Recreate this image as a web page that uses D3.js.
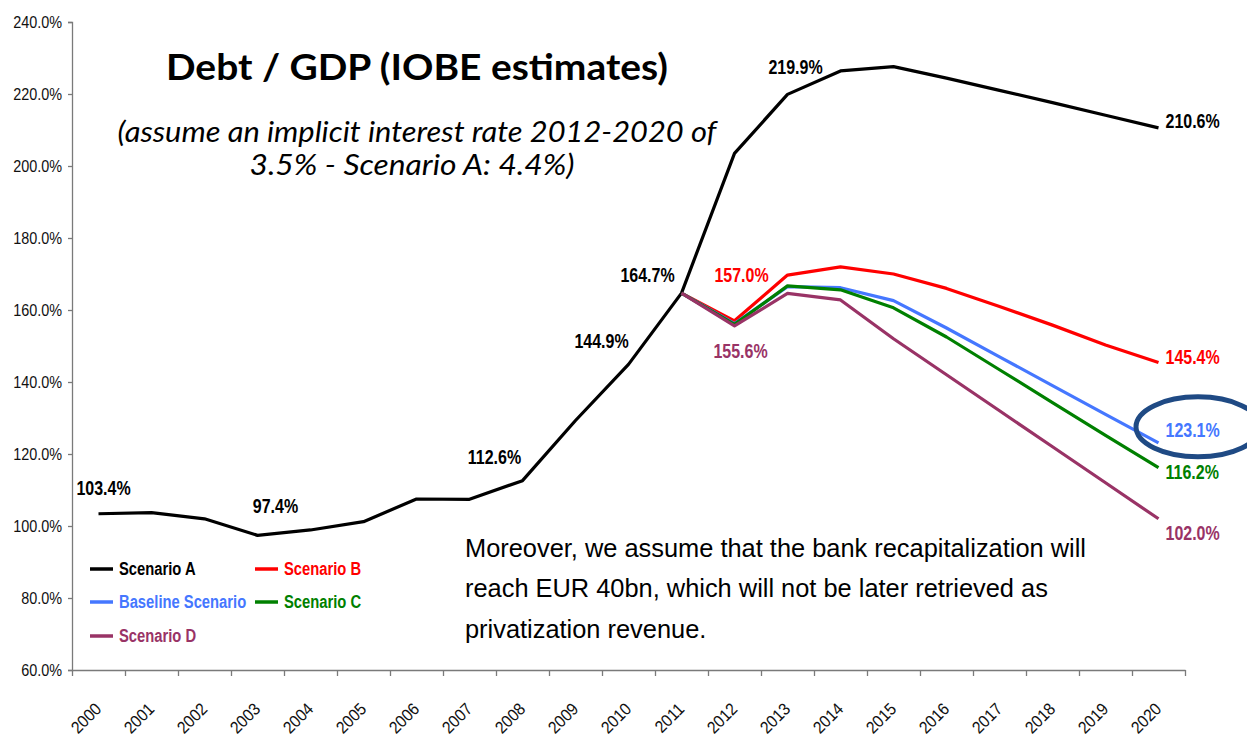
<!DOCTYPE html>
<html>
<head>
<meta charset="utf-8">
<script src="https://cdn.jsdelivr.net/npm/d3@7"></script>
<style>
  body { margin: 0; background: #fff; }
  svg { display: block; }
</style>
</head>
<body>
<div id="chart"></div>
<script>
// ---- data ----
var years = ["2000","2001","2002","2003","2004","2005","2006","2007","2008","2009","2010",
             "2011","2012","2013","2014","2015","2016","2017","2018","2019","2020"];
var forecastYears = ["2011","2012","2013","2014","2015","2016","2017","2018","2019","2020"];

var scenarioA = [103.4, 103.7, 102.0, 97.4, 98.9, 101.2, 107.5, 107.4, 112.6, 129.3, 144.9,
                 164.7, 203.5, 219.9, 226.4, 227.6, 224.4, 221.0, 217.6, 214.1, 210.6];
var scenarioB = [164.7, 157.0, 169.7, 172.0, 170.0, 166.0, 161.0, 155.8, 150.3, 145.4];
var baseline  = [164.7, 156.2, 166.5, 166.2, 162.6, 155.0, 147.0, 139.0, 131.0, 123.1];
var scenarioC = [164.7, 156.0, 166.7, 165.6, 160.6, 152.5, 143.4, 134.3, 125.2, 116.2];
var scenarioD = [164.7, 155.6, 164.6, 162.8, 152.0, 142.0, 132.0, 122.0, 112.0, 102.0];

var yTicks = [60, 80, 100, 120, 140, 160, 180, 200, 220, 240];

var seriesNames = ["Scenario A", "Scenario B", "Baseline Scenario", "Scenario C", "Scenario D"];

// ---- layout ----
var W = 1247, H = 739;
var arial = "'Liberation Sans', Arial, sans-serif";
var calib = "Lato, 'Open Sans', sans-serif";

// no Arial Narrow here, so squeeze Arial horizontally to the same width
function squeeze(sel, k) {
  sel.each(function() {
    var L = this.getComputedTextLength();
    d3.select(this).attr("textLength", L * k).attr("lengthAdjust", "spacingAndGlyphs");
  });
}
function fitTo(sel, len) {
  sel.attr("textLength", len).attr("lengthAdjust", "spacingAndGlyphs");
}

var svg = d3.select("#chart").append("svg")
    .attr("width", W)
    .attr("height", H);

var x = d3.scaleBand().domain(years).range([72, 1185]).padding(0);
var xEdge = d3.scaleLinear().domain([0, years.length]).range([72, 1185]);
var y = d3.scaleLinear().domain([60, 240]).range([670, 22]);

var cx = function(yr) { return x(yr) + x.bandwidth() / 2; };

// y axis
var yAxis = svg.append("g")
    .attr("transform", "translate(72,0)")
    .call(d3.axisLeft(y).tickValues(yTicks).tickSize(4).tickPadding(6)
      .tickFormat(function(d) { return d.toFixed(1) + "%"; }));
yAxis.selectAll("text").attr("font-family", arial).attr("font-size", "16px").attr("fill", "#111");
squeeze(yAxis.selectAll("text"), 0.9);

// x axis: tick marks on category edges, labels at centers
var xTicks = svg.append("g")
    .attr("transform", "translate(0,670)")
    .call(d3.axisBottom(xEdge).tickValues(d3.range(years.length + 1)).tickFormat("").tickSize(6).tickSizeOuter(0));

var xLabels = svg.append("g")
    .attr("transform", "translate(0,670)")
    .call(d3.axisBottom(x).tickSize(0).tickPadding(0));
xLabels.select(".domain").remove();
xLabels.selectAll("text")
    .attr("y", 0).attr("dy", 0)
    .attr("text-anchor", "end")
    .attr("transform", "translate(4,40) rotate(-45)")
    .attr("font-family", arial).attr("font-size", "17px").attr("fill", "#111");
squeeze(xLabels.selectAll("text"), 0.92);

svg.selectAll(".domain, .tick line").attr("stroke", "#7a7a7a").attr("stroke-width", 1.3);

// ---- lines ----
var colors = {
  "Scenario A": "#000000",
  "Scenario B": "#ff0000",
  "Baseline Scenario": "#4577ff",
  "Scenario C": "#008000",
  "Scenario D": "#993366"
};

var series = [
  { name: "Scenario A", cats: years, vals: scenarioA },
  { name: "Scenario B", cats: forecastYears, vals: scenarioB },
  { name: "Baseline Scenario", cats: forecastYears, vals: baseline },
  { name: "Scenario C", cats: forecastYears, vals: scenarioC },
  { name: "Scenario D", cats: forecastYears, vals: scenarioD }
];

var line = d3.line()
    .x(function(d) { return cx(d[0]); })
    .y(function(d) { return y(d[1]); });

svg.append("g").selectAll("path")
  .data(series)
  .enter().append("path")
    .attr("d", function(s) { return line(d3.zip(s.cats, s.vals)); })
    .attr("fill", "none")
    .attr("stroke", function(s) { return colors[s.name]; })
    .attr("stroke-width", 3.2)
    .attr("stroke-linejoin", "round");

// ---- data labels ----
// which points carry a label, and where the label sits relative to the point
var labelSpots = [
  { s: 0, yr: "2000", dx: 5,   dy: -26, anchor: "middle" },
  { s: 0, yr: "2003", dx: 18,  dy: -29, anchor: "middle" },
  { s: 0, yr: "2008", dx: -28, dy: -24, anchor: "middle" },
  { s: 0, yr: "2010", dx: -27, dy: -23, anchor: "middle" },
  { s: 0, yr: "2011", dx: -34, dy: -18, anchor: "middle" },
  { s: 0, yr: "2013", dx: 8,   dy: -27, anchor: "middle" },
  { s: 0, yr: "2020", dx: 7,   dy: -7,  anchor: "start" },
  { s: 1, yr: "2012", dx: 7,   dy: -46, anchor: "middle" },
  { s: 4, yr: "2012", dx: 6,   dy: 25,  anchor: "middle" },
  { s: 1, yr: "2020", dx: 7,   dy: -6,  anchor: "start" },
  { s: 2, yr: "2020", dx: 7,   dy: -13, anchor: "start" },
  { s: 3, yr: "2020", dx: 7,   dy: 4,   anchor: "start" },
  { s: 4, yr: "2020", dx: 7,   dy: 14,  anchor: "start" }
];

var labels = svg.append("g").selectAll("text")
  .data(labelSpots)
  .enter().append("text")
    .attr("x", function(d) { return cx(d.yr) + d.dx; })
    .attr("y", function(d) {
      var s = series[d.s];
      return y(s.vals[s.cats.indexOf(d.yr)]) + d.dy;
    })
    .attr("dy", "0.36em")
    .attr("text-anchor", function(d) { return d.anchor; })
    .attr("font-family", arial)
    .attr("font-weight", "bold")
    .attr("font-size", "19.5px")
    .attr("fill", function(d) { return colors[series[d.s].name]; })
    .text(function(d) {
      var s = series[d.s];
      return s.vals[s.cats.indexOf(d.yr)].toFixed(1) + "%";
    });
squeeze(labels, 0.82);

// highlight ring round the baseline end value
svg.append("ellipse")
    .attr("cx", 1198).attr("cy", y(baseline[baseline.length - 1]) - 16)
    .attr("rx", 62).attr("ry", 30)
    .attr("fill", "none")
    .attr("stroke", "#1f4a84")
    .attr("stroke-width", 5);

// ---- legend ----
var legendPos = [[90, 569], [255, 569], [90, 602], [255, 602], [90, 636]];
var legend = svg.append("g").selectAll("g")
  .data(seriesNames)
  .enter().append("g")
    .attr("transform", function(d, i) { return "translate(" + legendPos[i][0] + "," + legendPos[i][1] + ")"; });
legend.append("line")
    .attr("x1", 0).attr("x2", 23)
    .attr("stroke", function(d) { return colors[d]; })
    .attr("stroke-width", 3.5);
var legendText = legend.append("text")
    .attr("x", 29).attr("dy", "0.36em")
    .attr("font-family", arial).attr("font-weight", "bold").attr("font-size", "18px")
    .attr("fill", function(d) { return colors[d]; })
    .text(function(d) { return d; });
squeeze(legendText, 0.82);

// ---- titles and note ----
var title = svg.append("text")
    .attr("x", 417).attr("y", 80)
    .attr("text-anchor", "middle")
    .attr("font-family", calib).attr("font-weight", "bold")
    .attr("font-size", "37px").attr("fill", "#000")
    .text("Debt / GDP (IOBE estimates)");
fitTo(title, 502);

var sub = svg.append("text")
    .attr("text-anchor", "middle")
    .attr("font-family", calib).attr("font-style", "italic")
    .attr("font-size", "28px").attr("fill", "#000");
fitTo(sub.append("tspan").attr("x", 417).attr("y", 142).text("(assume an implicit interest rate 2012-2020 of"), 599);
fitTo(sub.append("tspan").attr("x", 412).attr("y", 175).text("3.5% - Scenario A: 4.4%)"), 325);

var note = svg.append("text")
    .attr("font-family", arial).attr("font-size", "25.4px").attr("fill", "#000");
note.append("tspan").attr("x", 465).attr("y", 557).text("Moreover, we assume that the bank recapitalization will");
note.append("tspan").attr("x", 465).attr("y", 597).text("reach EUR 40bn, which will not be later retrieved as");
note.append("tspan").attr("x", 465).attr("y", 638).text("privatization revenue.");
</script>
</body>
</html>
